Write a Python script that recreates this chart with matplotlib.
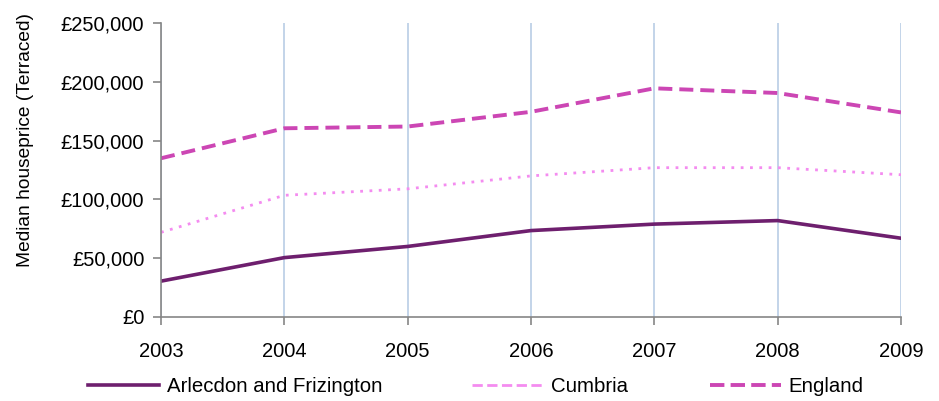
import matplotlib.pyplot as plt
from matplotlib.lines import Line2D
from matplotlib.ticker import FuncFormatter

years = [2003, 2004, 2005, 2006, 2007, 2008, 2009]
arlecdon = [30500, 50500, 60000, 73500, 79000, 82000, 67000]
cumbria = [72000, 103500, 109000, 120000, 127000, 127000, 121000]
england = [135000, 160500, 162000, 174500, 194500, 190500, 174000]

series_names = ["Arlecdon and Frizington", "Cumbria", "England"]
colors = ["#6E1F6E", "#F48CF0", "#CC46B4"]
styles = ["-", (0, (1, 2.35)), (0, (3.6, 1.8))]
widths = [2.6, 2.0, 2.8]

plt.rcParams['font.family'] = ['Liberation Sans', 'DejaVu Sans']

fig = plt.figure(figsize=(9.39, 4.01), dpi=100)
ax = fig.add_axes([0.1715, 0.2095, 0.788, 0.733])

lines = []
for vals, name, c, ls, lw in zip([arlecdon, cumbria, england], series_names, colors, styles, widths):
    ln, = ax.plot(years, vals, color=c, lw=lw, ls=ls, label=name, dash_capstyle="butt")
    lines.append(ln)

ax.set_xlim(years[0], years[-1])
ax.set_ylim(0, 250000)
ax.set_xticks(years)
ax.set_yticks(range(0, 250001, 50000))
ax.yaxis.set_major_formatter(FuncFormatter(lambda v, p: f"£{int(v):,}"))

ax.grid(axis="x", color="#B9CDE5", lw=1.2)
ax.set_axisbelow(True)
for s in ["top", "right"]:
    ax.spines[s].set_visible(False)
for s in ["left", "bottom"]:
    ax.spines[s].set_color("#868686")
    ax.spines[s].set_linewidth(1.2)
ax.tick_params(axis="both", colors="#868686", length=6, width=1.2, labelsize=14.5, labelcolor="black")
ax.tick_params(axis="y", pad=6)
ax.tick_params(axis="x", pad=12)

ax.set_ylabel("Median houseprice (Terraced)", fontsize=13.8)
ax.yaxis.set_label_coords(-0.172, 0.602)

# legend entries placed one by one, like the original layout
leg_x = [88, 472, 710]
for ln, x in zip(lines, leg_x):
    h = Line2D([], [], color=ln.get_color(), lw=ln.get_linewidth(), ls=ln.get_linestyle(),
               dash_capstyle="butt")
    fig.legend([h], [ln.get_label()], loc="center left", bbox_to_anchor=(x / 939, 1 - 387 / 401),
               frameon=False, fontsize=14.7, handlelength=3.5, handletextpad=0.35,
               borderpad=0, borderaxespad=0)

fig.savefig("out.png", dpi=100)
